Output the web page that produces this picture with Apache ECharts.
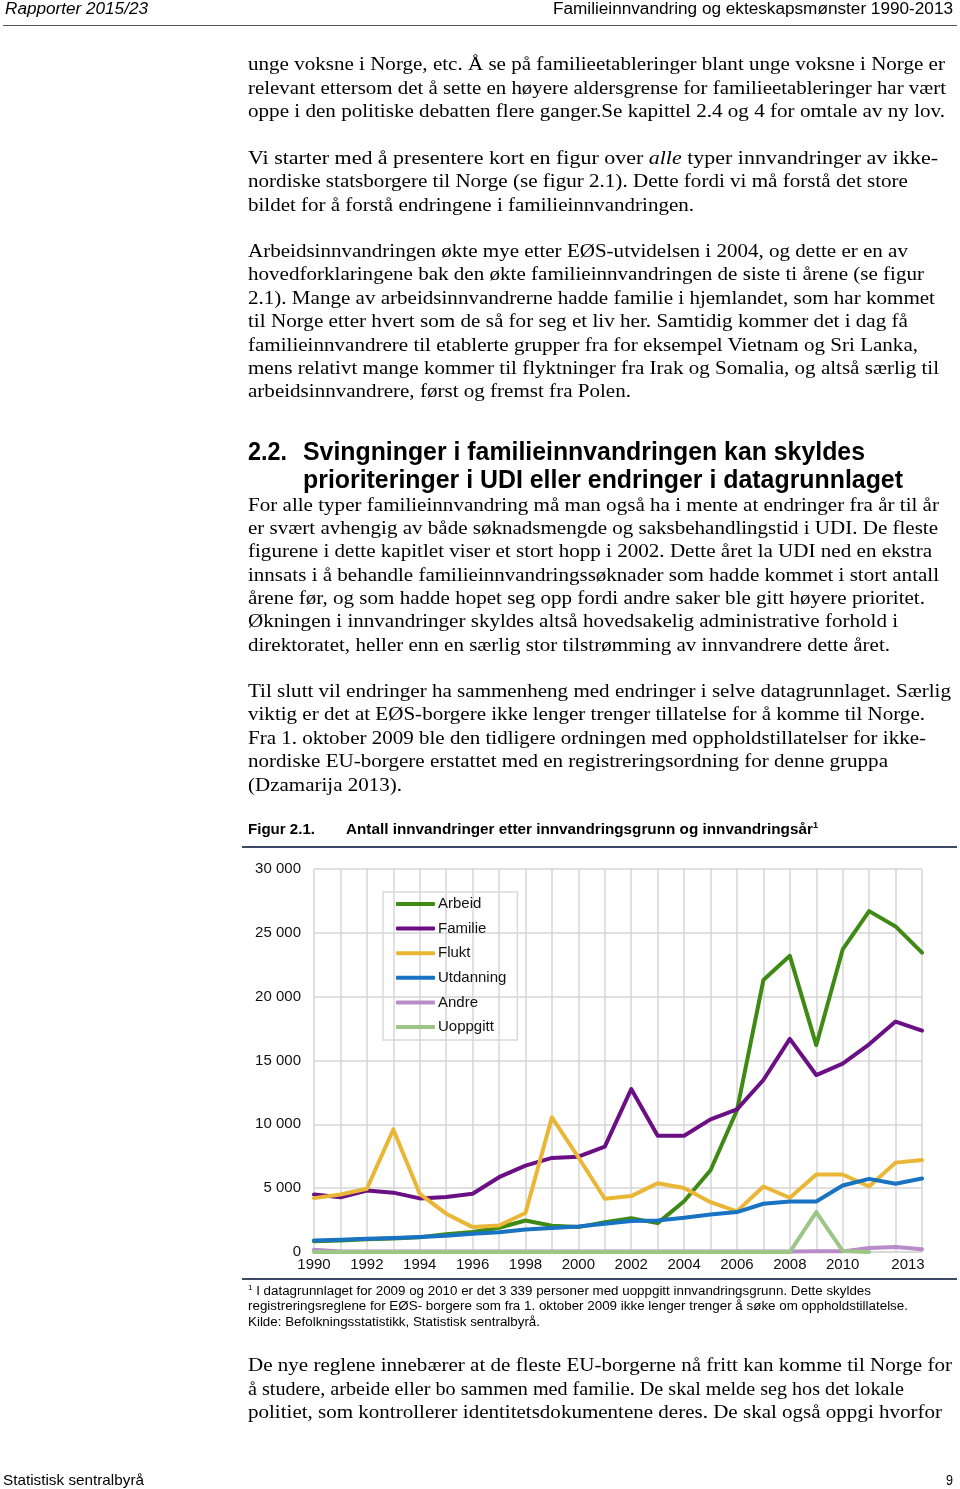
<!DOCTYPE html>
<html><head><meta charset="utf-8">
<script src="https://cdn.jsdelivr.net/npm/echarts@6/dist/echarts.min.js"></script>
<style>
html,body{margin:0;padding:0;background:#fff;}
body{width:960px;height:1489px;position:relative;overflow:hidden;}
#chart{position:absolute;left:0;top:0;width:960px;height:1489px;}
.t{position:absolute;white-space:nowrap;transform-origin:0 50%;color:#000;}
.serif{font-family:'Liberation Serif','Times New Roman',serif;font-size:19px;}
.sans{font-family:'Liberation Sans',Arial,sans-serif;}
.rule{position:absolute;}
sup{font-size:0.6em;vertical-align:0.7em;line-height:0;}
</style></head><body>
<div id="chart"></div>
<div id="text"></div>
<script>
// ---- chart data ----
const years = ['1990','1991','1992','1993','1994','1995','1996','1997','1998','1999','2000','2001',
               '2002','2003','2004','2005','2006','2007','2008','2009','2010','2011','2012','2013'];
const xTickLabels = ['1990','1992','1994','1996','1998','2000','2002','2004','2006','2008','2010','2013'];
const seriesNames = ['Arbeid','Familie','Flukt','Utdanning','Andre','Uoppgitt'];
const arbeid    = [850,900,1000,1050,1150,1400,1560,1900,2470,2050,1950,2340,2650,2260,3980,6400,11100,21300,23200,16200,23700,26700,25500,23450];
const familie   = [4500,4280,4820,4650,4200,4300,4560,5860,6770,7370,7470,8250,12760,9110,9110,10390,11170,13470,16690,13860,14750,16270,18050,17340];
const flukt     = [4220,4500,4950,9600,4560,3000,1950,2080,3050,10550,7420,4170,4380,5390,5020,3900,3180,5130,4250,6070,6070,5130,7000,7210];
const utdanning = [910,960,1040,1090,1170,1280,1430,1540,1770,1880,2000,2210,2420,2470,2680,2940,3130,3780,3960,3960,5210,5730,5340,5760];
const andre     = [180,40,30,30,30,30,30,30,30,30,30,30,30,30,30,30,30,30,40,50,50,310,390,210];
const uoppgitt  = [0,0,0,0,0,0,0,0,0,0,0,0,0,0,0,0,0,0,0,3130,80,0,null,null];
const colors = ['#3f8a14','#6a0f84','#e9b635','#1873c2','#b88cc8','#9dc586'];

const chart = echarts.init(document.getElementById('chart'), null, {renderer:'canvas'});
const font = "'Liberation Sans', Arial, sans-serif";
const dataSets = [arbeid, familie, flukt, utdanning, andre, uoppgitt];
chart.setOption({
  animation:false,
  backgroundColor:'transparent',
  textStyle:{fontFamily:font},
  grid:{left:314, top:869, width:608, height:383, containLabel:false},
  legend:{
    data:seriesNames, orient:'vertical', left:383, top:892,
    borderColor:'#d9d9d9', borderWidth:1.5, padding:[2,11,3,13],
    itemWidth:39, itemHeight:4, itemGap:4.6, icon:'roundRect', selectedMode:false,
    textStyle:{fontSize:15, color:'#111', fontFamily:font, lineHeight:20, padding:[0,0,0,-2]}
  },
  xAxis:{
    type:'category', data:years, boundaryGap:false,
    axisLine:{show:true, lineStyle:{color:'#d4d4d4', width:1.5}},
    axisTick:{show:false},
    splitLine:{show:true, interval:0, lineStyle:{color:'#d6d6d6', width:1.5}},
    axisLabel:{
      interval:0, margin:5, fontSize:15, color:'#111', fontFamily:font, hideOverlap:false,
      formatter:function(v){
        if (xTickLabels.indexOf(v) < 0) return '';
        if (v === '2013') return '{s|' + v + '}';
        return v;
      },
      rich:{s:{fontSize:15, color:'#111', fontFamily:font, padding:[0,28,0,0]}}
    }
  },
  yAxis:{
    type:'value', min:0, max:30000, interval:5000,
    axisLine:{show:false}, axisTick:{show:false},
    splitLine:{show:true, lineStyle:{color:'#d6d6d6', width:1.5}},
    axisLabel:{margin:13, fontSize:15, color:'#111', fontFamily:font,
      formatter:function(v){ return String(v).replace(/\B(?=(\d{3})+(?!\d))/g,' '); }}
  },
  series: seriesNames.map(function(n,i){
    return {name:n, type:'line', data:dataSets[i], showSymbol:false, symbol:'none',
      color:colors[i], connectNulls:false,
      lineStyle:{color:colors[i], width:4, cap:'round', join:'round'}};
  })
});

// ---- page text ----
const S = 'serif', A = 'sans';
const lines = [
  // [x, yCenter, rightEdge, html, family, fontSize, extraStyle]
  [5, 9, 148, 'Rapporter 2015/23', A, 16, 'font-style:italic;'],
  [553, 9, 953, 'Familieinnvandring og ekteskapsmønster 1990-2013', A, 16, ''],
  [248, 64, 945, 'unge voksne i Norge, etc. Å se på familieetableringer blant unge voksne i Norge er', S, 19, ''],
  [248, 88, 946, 'relevant ettersom det å sette en høyere aldersgrense for familieetableringer har vært', S, 19, ''],
  [248, 111, 945, 'oppe i den politiske debatten flere ganger.Se kapittel 2.4 og 4 for omtale av ny lov.', S, 19, ''],
  [248, 158, 938, 'Vi starter med å presentere kort en figur over <i>alle</i> typer innvandringer av ikke-', S, 19, ''],
  [248, 181, 908, 'nordiske statsborgere til Norge (se figur 2.1). Dette fordi vi må forstå det store', S, 19, ''],
  [248, 205, 694, 'bildet for å forstå endringene i familieinnvandringen.', S, 19, ''],
  [248, 251, 908, 'Arbeidsinnvandringen økte mye etter EØS-utvidelsen i 2004, og dette er en av', S, 19, ''],
  [248, 274, 924, 'hovedforklaringene bak den økte familieinnvandringen de siste ti årene (se figur', S, 19, ''],
  [248, 298, 935, '2.1). Mange av arbeidsinnvandrerne hadde familie i hjemlandet, som har kommet', S, 19, ''],
  [248, 321, 908, 'til Norge etter hvert som de så for seg et liv her. Samtidig kommer det i dag få', S, 19, ''],
  [248, 345, 918, 'familieinnvandrere til etablerte grupper fra for eksempel Vietnam og Sri Lanka,', S, 19, ''],
  [248, 368, 939, 'mens relativt mange kommer til flyktninger fra Irak og Somalia, og altså særlig til', S, 19, ''],
  [248, 391, 631, 'arbeidsinnvandrere, først og fremst fra Polen.', S, 19, ''],
  [248, 451, 287, '2.2.', A, 25, 'font-weight:bold;'],
  [303, 451, 865, 'Svingninger i familieinnvandringen kan skyldes', A, 25, 'font-weight:bold;'],
  [303, 479, 903, 'prioriteringer i UDI eller endringer i datagrunnlaget', A, 25, 'font-weight:bold;'],
  [248, 505, 939, 'For alle typer familieinnvandring må man også ha i mente at endringer fra år til år', S, 19, ''],
  [248, 528, 938, 'er svært avhengig av både søknadsmengde og saksbehandlingstid i UDI. De fleste', S, 19, ''],
  [248, 551, 932, 'figurene i dette kapitlet viser et stort hopp i 2002. Dette året la UDI ned en ekstra', S, 19, ''],
  [248, 575, 939, 'innsats i å behandle familieinnvandringssøknader som hadde kommet i stort antall', S, 19, ''],
  [248, 598, 925, 'årene før, og som hadde hopet seg opp fordi andre saker ble gitt høyere prioritet.', S, 19, ''],
  [248, 621, 898, 'Økningen i innvandringer skyldes altså hovedsakelig administrative forhold i', S, 19, ''],
  [248, 645, 890, 'direktoratet, heller enn en særlig stor tilstrømming av innvandrere dette året.', S, 19, ''],
  [248, 691, 951, 'Til slutt vil endringer ha sammenheng med endringer i selve datagrunnlaget. Særlig', S, 19, ''],
  [248, 714, 925, 'viktig er det at EØS-borgere ikke lenger trenger tillatelse for å komme til Norge.', S, 19, ''],
  [248, 738, 926, 'Fra 1. oktober 2009 ble den tidligere ordningen med oppholdstillatelser for ikke-', S, 19, ''],
  [248, 761, 888, 'nordiske EU-borgere erstattet med en registreringsordning for denne gruppa', S, 19, ''],
  [248, 785, 402, '(Dzamarija 2013).', S, 19, ''],
  [248, 828, 315, 'Figur 2.1.', A, 15, 'font-weight:bold;'],
  [346, 828, 818, 'Antall innvandringer etter innvandringsgrunn og innvandringsår<sup>1</sup>', A, 15, 'font-weight:bold;'],
  [248, 1291, 871, '<sup>1</sup> I datagrunnlaget for 2009 og 2010 er det 3 339 personer med uoppgitt innvandringsgrunn. Dette skyldes', A, 12.5, ''],
  [248, 1306, 908, 'registreringsreglene for EØS- borgere som fra 1. oktober 2009 ikke lenger trenger å søke om oppholdstillatelse.', A, 12.5, ''],
  [248, 1322, 540, 'Kilde: Befolkningsstatistikk, Statistisk sentralbyrå.', A, 12.5, ''],
  [248, 1365, 952, 'De nye reglene innebærer at de fleste EU-borgerne nå fritt kan komme til Norge for', S, 19, ''],
  [248, 1389, 904, 'å studere, arbeide eller bo sammen med familie. De skal melde seg hos det lokale', S, 19, ''],
  [248, 1412, 942, 'politiet, som kontrollerer identitetsdokumentene deres. De skal også oppgi hvorfor', S, 19, ''],
  [3, 1479, 144, 'Statistisk sentralbyrå', A, 15, ''],
  [946, 1479, 953, '9', A, 15, '']
];
const rules = [
  [3, 25, 954, 1, '#555'],
  [242, 846, 715, 2, '#3b4a66'],
  [242, 1278, 715, 2, '#3b4a66']
];
const host = document.getElementById('text');
lines.forEach(function(l){
  const d = document.createElement('div');
  d.className = 't ' + l[4];
  const lh = Math.round(l[5]*1.25);
  d.style.cssText += 'left:'+l[0]+'px;top:'+(l[1]-lh/2)+'px;font-size:'+l[5]+'px;line-height:'+lh+'px;' + l[6];
  d.innerHTML = l[3];
  host.appendChild(d);
  const w = d.getBoundingClientRect().width;
  const target = l[2]-l[0];
  if (w > 0) {
    let s = target / w;
    if (s > 0.7 && s < 1.3) d.style.transform = 'scaleX(' + s.toFixed(4) + ')';
  }
});
rules.forEach(function(r){
  const d = document.createElement('div');
  d.className = 'rule';
  d.style.cssText = 'left:'+r[0]+'px;top:'+r[1]+'px;width:'+r[2]+'px;height:'+r[3]+'px;background:'+r[4]+';';
  host.appendChild(d);
});
</script>
</body></html>
